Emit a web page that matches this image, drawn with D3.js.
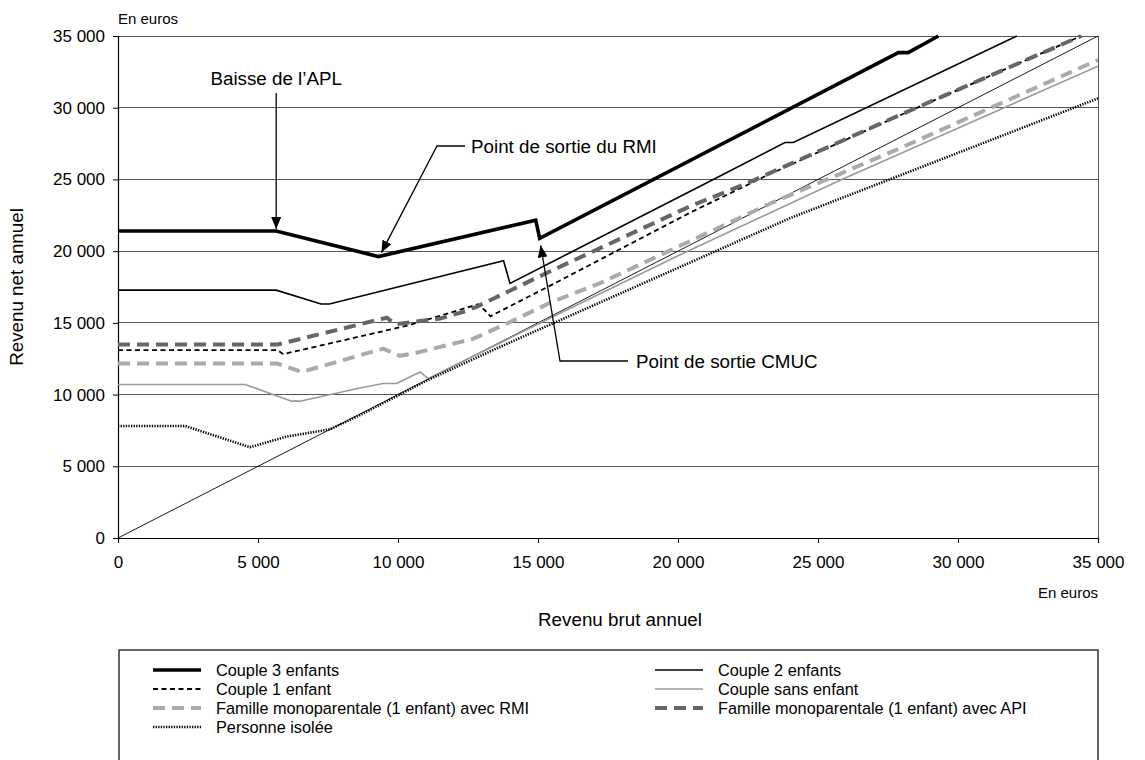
<!DOCTYPE html>
<html><head><meta charset="utf-8">
<script src="https://cdn.jsdelivr.net/npm/d3@7"></script>
<style>
html,body{margin:0;padding:0;background:#fff;}
svg{display:block;font-family:"Liberation Sans",Arial,Helvetica,sans-serif;}
</style></head>
<body>
<svg id="chart" width="1145" height="760"></svg>
<script>
// ---- data (gross annual income -> net annual income, euros) ----
const couple3 = [[0,21400],[5650,21400],[9300,19620],[14920,22160],[15060,20890],[27870,33840],[28220,33840],[29300,35000]];
const couple2 = [[0,17280],[5650,17280],[7250,16320],[7550,16320],[13770,19330],[14000,17750],[21260,25000],[23820,27570],[24120,27570],[32100,35000]];
const couple1 = [[0,13100],[5700,13100],[5900,12820],[10400,14840],[12860,16300],[13160,15770],[13300,15460],[15400,17560],[20500,22750],[23200,25300],[27900,29450],[34400,35000]];
const coupleSans = [[0,10700],[4540,10700],[6200,9540],[6500,9540],[8640,10460],[9470,10770],[9950,10770],[10790,11580],[11080,11120],[15400,15300],[20000,19680],[25850,25000],[35000,32900]];
const monoRMI = [[0,12160],[5700,12160],[6560,11580],[9470,13200],[10070,12700],[10550,12860],[12700,13900],[14000,15060],[15500,16460],[17200,17750],[23300,23320],[27900,27150],[35000,33330]];
const monoAPI = [[0,13490],[5700,13490],[9600,15360],[9900,14900],[10550,15070],[11500,15300],[12340,15770],[12800,16110],[13290,16580],[15400,18560],[20400,23100],[22500,24760],[27900,29470],[34400,35000]];
const isolee = [[0,7810],[2400,7810],[4710,6330],[6020,7070],[7580,7580],[8640,8570],[11000,10950],[13500,13200],[15400,14850],[24000,22300],[35000,30650]];
const diagonal = [[0,0],[35000,35000]];

const seriesNames = ["Couple 3 enfants","Couple 2 enfants","Couple 1 enfant","Couple sans enfant",
  "Famille monoparentale (1 enfant) avec RMI","Famille monoparentale (1 enfant) avec API","Personne isolée"];
const xTicks = [0,5000,10000,15000,20000,25000,30000,35000];
const yTicks = [0,5000,10000,15000,20000,25000,30000,35000];
const annotations = [
  {text:"Baisse de l\u2019APL", target:[5650,21400]},
  {text:"Point de sortie du RMI", target:[9300,19620]},
  {text:"Point de sortie CMUC", target:[15060,20890]}
];

// ---- styles ----
const styles = [
  {data:couple3, color:"#000", width:3.6, dash:null},
  {data:couple2, color:"#000", width:1.6, dash:null},
  {data:couple1, color:"#000", width:1.8, dash:"5,3.5"},
  {data:coupleSans, color:"#999", width:1.6, dash:null},
  {data:monoRMI, color:"#aaa", width:4, dash:"12,7"},
  {data:monoAPI, color:"#666", width:4, dash:"12,7"},
  {data:isolee, color:"#000", width:2.6, dash:"1.3,1.3"}
];

const svg = d3.select("#chart");
const FS_TICK = 17, FS_TITLE = 18.8, FS_ANN = 18.8, FS_LEG = 16.3, FS_UNIT = 15;
const L = 118, R = 1098, T = 36, B = 538;
const x = d3.scaleLinear().domain([0,35000]).range([L,R]);
const y = d3.scaleLinear().domain([0,35000]).range([B,T]);
const fmt = v => d3.format(",")(v).replace(/,/g," ");

// gridlines
svg.append("g").selectAll("line").data(yTicks.filter(v=>v>0)).join("line")
  .attr("x1",L).attr("x2",R).attr("y1",d=>y(d)).attr("y2",d=>y(d))
  .attr("stroke","#555").attr("stroke-width",1).attr("shape-rendering","crispEdges");
// right border
svg.append("line").attr("x1",R).attr("x2",R).attr("y1",T).attr("y2",B)
  .attr("stroke","#555").attr("shape-rendering","crispEdges");

// axes
const xAxis = d3.axisBottom(x).tickValues(xTicks).tickFormat(fmt).tickSize(5).tickPadding(13);
const gx = svg.append("g").attr("transform",`translate(0,${B})`).call(xAxis);
const yAxis = d3.axisLeft(y).tickValues(yTicks).tickFormat(fmt).tickSize(5).tickPadding(8);
const gy = svg.append("g").attr("transform",`translate(${L},0)`).call(yAxis);
[gx,gy].forEach(g=>{
  g.selectAll("path.domain").attr("stroke","#000").attr("stroke-width",1.2);
  g.selectAll(".tick line").attr("stroke","#000");
  g.selectAll("text").attr("font-size",FS_TICK).attr("fill","#000").attr("font-family","Liberation Sans, Arial, sans-serif");
});

// clip
svg.append("clipPath").attr("id","clip").append("rect").attr("x",L).attr("y",T-3).attr("width",R-L).attr("height",B-T+3);

const line = d3.line().x(d=>x(d[0])).y(d=>y(d[1]));
const plot = svg.append("g").attr("clip-path","url(#clip)");
plot.append("path").attr("d",line(diagonal)).attr("fill","none").attr("stroke","#000").attr("stroke-width",0.9);
// draw order: lighter underneath
[3,4,6,2,5,1,0].forEach(i=>{
  const s = styles[i];
  plot.append("path").attr("d",line(s.data)).attr("fill","none")
    .attr("stroke",s.color).attr("stroke-width",s.width)
    .attr("stroke-dasharray",s.dash).attr("stroke-linejoin","miter");
});

// labels
svg.append("text").attr("x",L).attr("y",23.5).attr("font-size",FS_UNIT).text("En euros");
svg.append("text").attr("x",R).attr("y",597.5).attr("text-anchor","end").attr("font-size",FS_UNIT).text("En euros");
svg.append("text").attr("x",620).attr("y",626).attr("text-anchor","middle").attr("font-size",FS_TITLE).text("Revenu brut annuel");
svg.append("text").attr("transform",`translate(23,${(T+B)/2}) rotate(-90)`).attr("text-anchor","middle").attr("font-size",FS_TITLE).text("Revenu net annuel");

// annotations with arrows
const defs = svg.append("defs");
defs.append("marker").attr("id","arr").attr("viewBox","0 0 12 10").attr("refX",12).attr("refY",5)
  .attr("markerWidth",12).attr("markerHeight",10).attr("markerUnits","userSpaceOnUse").attr("orient","auto")
  .append("path").attr("d","M0,0 L12,5 L0,10 Z").attr("fill","#000");
const ann = svg.append("g");
// APL: vertical arrow from label down to target
{
  const a = annotations[0]; const tx = x(a.target[0]), ty = y(a.target[1]) - 2;
  ann.append("text").attr("x",tx).attr("y",85).attr("text-anchor","middle").attr("font-size",FS_ANN).text(a.text);
  ann.append("path").attr("d",`M${tx},93 L${tx},${ty}`).attr("stroke","#000").attr("stroke-width",1.3).attr("fill","none").attr("marker-end","url(#arr)");
}
// RMI
{
  const a = annotations[1]; const tx = x(a.target[0])+3, ty = y(a.target[1]) - 4;
  ann.append("path").attr("d",`M465,146 L437,146 L${tx},${ty}`).attr("stroke","#000").attr("stroke-width",1.3).attr("fill","none").attr("marker-end","url(#arr)");
  ann.append("text").attr("x",471).attr("y",152.5).attr("font-size",FS_ANN).text(a.text);
}
// CMUC
{
  const a = annotations[2]; const tx = x(a.target[0])+1, ty = y(a.target[1]) + 7;
  ann.append("path").attr("d",`M628,361 L560,361 L${tx},${ty}`).attr("stroke","#000").attr("stroke-width",1.3).attr("fill","none").attr("marker-end","url(#arr)");
  ann.append("text").attr("x",636).attr("y",367.5).attr("font-size",FS_ANN).text(a.text);
}

// legend
const lg = svg.append("g");
lg.append("rect").attr("x",119).attr("y",650).attr("width",979).attr("height",120)
  .attr("fill","none").attr("stroke","#000").attr("stroke-width",1.2);
const rowY = [670,689,708,727];
styles.forEach((s,i)=>{
  const col = i%2, row = Math.floor(i/2);
  const x0 = col===0 ? 153 : 655, yy = rowY[row];
  lg.append("line").attr("x1",x0).attr("x2",x0+48).attr("y1",yy).attr("y2",yy)
    .attr("stroke",s.color).attr("stroke-width",s.width).attr("stroke-dasharray",s.dash);
  lg.append("text").attr("x",x0+63).attr("y",yy+5.7).attr("font-size",FS_LEG).text(seriesNames[i]);
});
</script>
</body></html>
